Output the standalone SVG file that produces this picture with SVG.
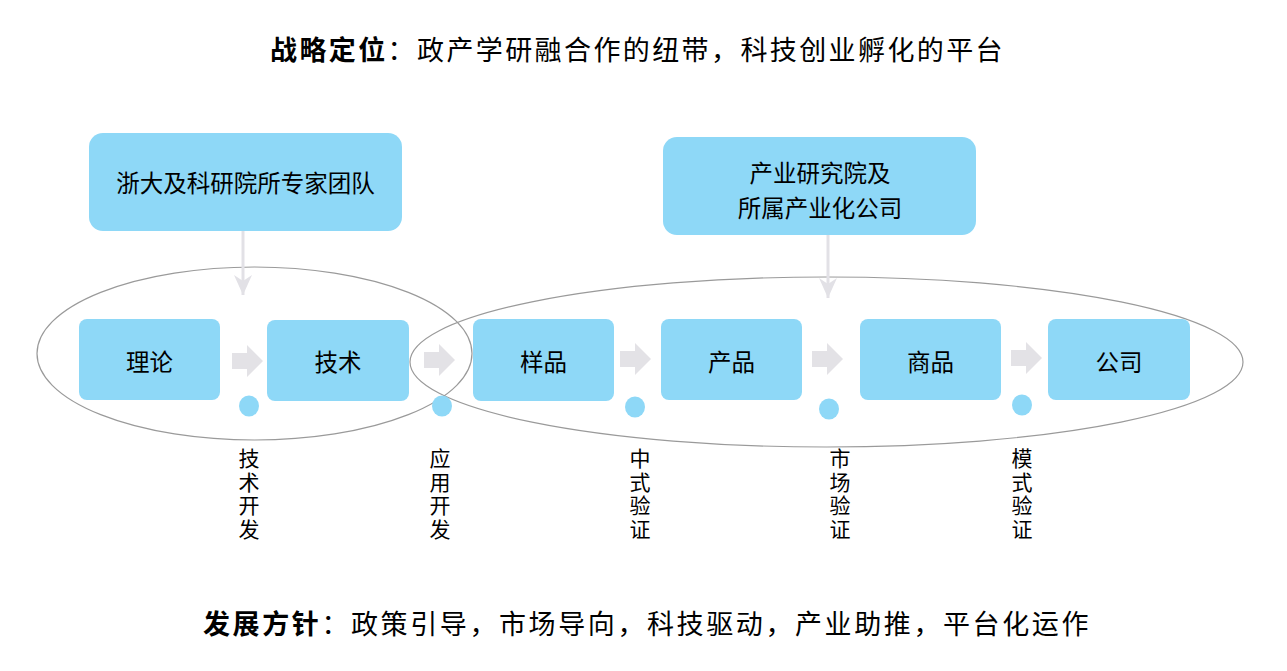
<svg xmlns="http://www.w3.org/2000/svg" width="1287" height="671" viewBox="0 0 1287 671">
<style>
  .bg{fill:#ffffff}
  .box{fill:#8ed8f7}
  .t{font-family:"Noto Sans CJK SC","Noto Sans",sans-serif;fill:#000;dominant-baseline:central}
  .lbl{font-size:23.5px;text-anchor:middle}
  .vl{font-family:"Noto Sans CJK SC","Noto Sans",sans-serif;fill:#000;font-size:21px;writing-mode:vertical-rl;letter-spacing:2.5px}
  .head{font-size:27px;letter-spacing:2.4px}
  .ell{fill:none;stroke:#9a9a9a;stroke-width:1.2}
  .conn{stroke:#e2e1e6;stroke-width:3;fill:none}
  .blk{fill:#e3e2e6}
  .dot{fill:#8ed8f7}
</style>
<defs>
  <marker id="ah" viewBox="0 0 20 18" refX="20" refY="9" markerWidth="20" markerHeight="18" markerUnits="userSpaceOnUse" orient="auto">
    <path d="M0,0 L20,9 L0,18 L6,9 Z" fill="#e2e1e6"/>
  </marker>
  <path id="blkarrow" d="M0,-8 L15,-8 L15,-16 L31,0 L15,16 L15,8 L0,8 Z"/>
</defs>
<rect class="bg" x="0" y="0" width="1287" height="671"/>

<text id="title" class="t head" x="270" y="48"><tspan font-weight="bold">战略定位</tspan>：政产学研融合作的纽带，科技创业孵化的平台</text>

<g id="ellipses">
  <ellipse class="ell" cx="254.5" cy="353.5" rx="217.5" ry="86.5"/>
  <ellipse class="ell" cx="826.5" cy="362" rx="416.5" ry="85"/>
</g>

<g id="connectors">
  <line class="conn" x1="243" y1="231" x2="243" y2="295" marker-end="url(#ah)"/>
  <line class="conn" x1="828" y1="235" x2="828" y2="298" marker-end="url(#ah)"/>
  <use href="#blkarrow" class="blk" x="232" y="361"/>
  <use href="#blkarrow" class="blk" x="424" y="360"/>
  <use href="#blkarrow" class="blk" x="620" y="359"/>
  <use href="#blkarrow" class="blk" x="812" y="359"/>
  <use href="#blkarrow" class="blk" x="1011" y="358"/>
</g>

<g id="n-team">
  <rect class="box" x="89" y="133" width="313" height="98" rx="14"/>
  <text class="t lbl" x="245.5" y="182">浙大及科研院所专家团队</text>
</g>
<g id="n-institute">
  <rect class="box" x="663" y="137" width="313" height="98" rx="14"/>
  <text class="t lbl" x="820" y="172">产业研究院及</text>
  <text class="t lbl" x="820" y="207">所属产业化公司</text>
</g>

<g id="n-theory">
  <rect class="box" x="79" y="319" width="141" height="81" rx="8"/>
  <text class="t lbl" x="149.5" y="361">理论</text>
</g>
<g id="n-tech">
  <rect class="box" x="267" y="320" width="142" height="81" rx="8"/>
  <text class="t lbl" x="338" y="361">技术</text>
</g>
<g id="n-sample">
  <rect class="box" x="473" y="319" width="141" height="82" rx="8"/>
  <text class="t lbl" x="543.5" y="361">样品</text>
</g>
<g id="n-product">
  <rect class="box" x="661" y="319" width="141" height="81" rx="8"/>
  <text class="t lbl" x="731.5" y="361">产品</text>
</g>
<g id="n-goods">
  <rect class="box" x="860" y="319" width="141" height="81" rx="8"/>
  <text class="t lbl" x="930.5" y="361">商品</text>
</g>
<g id="n-company">
  <rect class="box" x="1048" y="319" width="142" height="81" rx="8"/>
  <text class="t lbl" x="1119" y="361">公司</text>
</g>

<g id="dots">
  <ellipse class="dot" cx="249" cy="406" rx="10" ry="10.5"/>
  <ellipse class="dot" cx="442" cy="406" rx="10" ry="10.5"/>
  <ellipse class="dot" cx="635" cy="407" rx="10" ry="10.5"/>
  <ellipse class="dot" cx="829" cy="409" rx="10" ry="10.5"/>
  <ellipse class="dot" cx="1022" cy="405" rx="10" ry="10.5"/>
</g>

<g id="stage-labels">
  <text class="vl" x="249" y="448">技术开发</text>
  <text class="vl" x="440" y="448">应用开发</text>
  <text class="vl" x="640" y="448">中式验证</text>
  <text class="vl" x="840" y="448">市场验证</text>
  <text class="vl" x="1022" y="448">模式验证</text>
</g>

<text id="policy" class="t head" x="203" y="622" style="letter-spacing:2.6px"><tspan font-weight="bold">发展方针</tspan>：政策引导，市场导向，科技驱动，产业助推，平台化运作</text>
</svg>
